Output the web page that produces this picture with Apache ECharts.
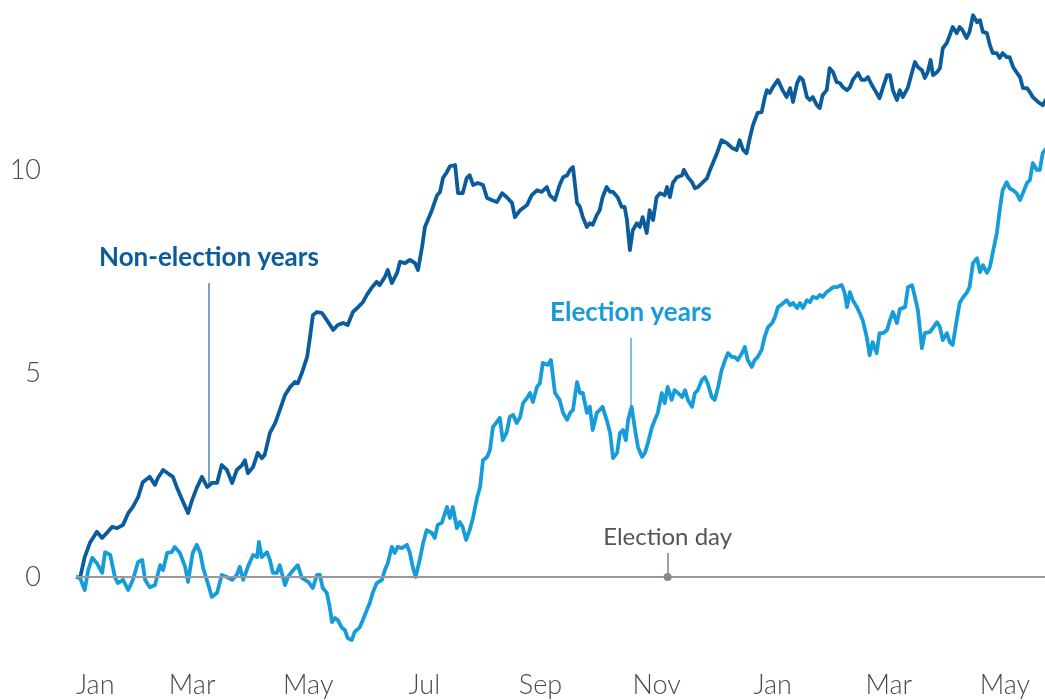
<!DOCTYPE html>
<html>
<head>
<meta charset="utf-8">
<title>Election vs non-election years</title>
<script src="https://cdn.jsdelivr.net/npm/echarts@6/dist/echarts.min.js"></script>
<style>
  html, body { margin: 0; padding: 0; background: #ffffff; }
  #chart { width: 1045px; height: 700px; }
</style>
</head>
<body>
<div id="chart"></div>
<script>
// Months elapsed since January 1 of the first year (x) and cumulative return in % (y)
const nonElectionMonths = [0,0.07,0.15,0.24,0.36,0.45,0.53,0.62,0.71,0.81,0.90,0.98,1.07,1.15,1.27,1.36,1.41,1.50,1.58,1.67,1.74,1.83,1.93,2.00,2.08,2.17,2.26,2.34,2.43,2.51,2.60,2.69,2.77,2.86,2.91,2.96,3.05,3.13,3.20,3.25,3.34,3.43,3.51,3.60,3.69,3.77,3.82,3.89,3.98,4.03,4.08,4.15,4.24,4.32,4.43,4.51,4.60,4.68,4.77,4.86,4.94,5.01,5.10,5.18,5.23,5.32,5.37,5.44,5.53,5.58,5.67,5.75,5.84,5.89,5.96,6.01,6.06,6.13,6.22,6.27,6.32,6.39,6.44,6.53,6.58,6.66,6.73,6.78,6.84,6.92,7.01,7.08,7.16,7.25,7.34,7.42,7.51,7.56,7.65,7.77,7.85,7.94,8.02,8.11,8.16,8.25,8.33,8.39,8.46,8.51,8.56,8.63,8.68,8.73,8.80,8.85,8.90,8.97,9.02,9.07,9.14,9.20,9.25,9.33,9.40,9.45,9.49,9.54,9.59,9.66,9.71,9.76,9.83,9.88,9.94,10.00,10.06,10.14,10.18,10.23,10.28,10.35,10.44,10.47,10.54,10.61,10.66,10.71,10.80,10.87,10.92,10.97,11.04,11.12,11.21,11.30,11.38,11.43,11.49,11.55,11.61,11.66,11.74,11.81,11.86,11.90,11.95,12.00,12.09,12.17,12.24,12.30,12.35,12.42,12.47,12.52,12.59,12.64,12.69,12.76,12.81,12.86,12.93,12.98,13.04,13.10,13.16,13.21,13.28,13.33,13.38,13.47,13.53,13.59,13.64,13.71,13.76,13.84,13.90,13.97,14.02,14.07,14.14,14.19,14.24,14.33,14.40,14.45,14.50,14.57,14.62,14.67,14.72,14.76,14.83,14.88,14.93,15.00,15.05,15.10,15.17,15.22,15.27,15.34,15.39,15.45,15.52,15.57,15.62,15.69,15.74,15.79,15.86,15.91,15.96,16.03,16.08,16.14,16.20,16.26,16.31,16.38,16.43,16.48,16.57,16.65,16.72];
const nonElectionValues = [0,-0.02,0.49,0.84,1.11,0.96,1.08,1.23,1.20,1.28,1.57,1.72,1.96,2.33,2.46,2.26,2.43,2.63,2.55,2.46,2.19,1.89,1.57,1.89,2.19,2.46,2.21,2.31,2.31,2.75,2.63,2.31,2.63,2.75,2.87,2.55,2.70,3.05,2.92,3.00,3.54,3.78,4.10,4.47,4.67,4.79,4.76,5.01,5.40,5.89,6.43,6.51,6.48,6.31,6.07,6.19,6.24,6.19,6.51,6.63,6.75,6.93,7.12,7.25,7.17,7.37,7.54,7.22,7.47,7.74,7.71,7.79,7.71,7.54,8.10,8.60,8.77,9.01,9.38,9.46,9.80,9.95,10.09,10.12,9.43,9.43,9.80,9.87,9.63,9.68,9.63,9.31,9.26,9.21,9.43,9.33,9.19,8.84,9.01,9.14,9.38,9.50,9.46,9.58,9.38,9.26,9.63,9.82,9.87,10.00,10.07,9.19,9.09,8.84,8.60,8.69,8.65,8.89,9.01,9.33,9.58,9.46,9.46,9.33,9.09,9.09,8.77,8.03,8.52,8.69,8.60,8.84,8.45,9.01,8.77,9.33,9.43,9.38,9.58,9.33,9.68,9.82,9.87,10.00,9.82,9.70,9.55,9.58,9.70,9.80,10.00,10.17,10.41,10.73,10.66,10.54,10.49,10.73,10.49,10.41,10.81,11.10,11.40,11.42,11.76,11.96,11.89,12.03,12.21,11.96,11.79,12.01,11.67,12.13,12.28,12.21,11.79,11.72,11.79,11.59,11.52,11.84,11.96,12.50,12.40,12.16,12.13,12.03,11.96,12.03,12.21,12.38,12.21,12.21,12.28,12.08,11.96,11.76,12.03,12.33,12.33,11.96,11.72,11.96,11.79,12.03,12.40,12.65,12.53,12.45,12.26,12.40,12.70,12.33,12.40,12.50,12.99,13.12,13.31,13.51,13.36,13.51,13.43,13.24,13.39,13.80,13.63,13.68,13.39,13.36,13.07,12.87,12.87,12.75,12.87,12.77,12.77,12.53,12.40,12.28,12.01,12.01,11.91,11.79,11.67,11.59,11.76];

const electionMonths = [0,0.07,0.15,0.21,0.28,0.36,0.45,0.50,0.59,0.67,0.72,0.81,0.90,0.98,1.07,1.14,1.19,1.27,1.36,1.45,1.50,1.57,1.65,1.70,1.79,1.88,1.93,2.01,2.08,2.14,2.19,2.27,2.34,2.43,2.51,2.60,2.69,2.77,2.82,2.88,2.96,3.05,3.12,3.15,3.20,3.29,3.34,3.39,3.46,3.51,3.60,3.65,3.74,3.82,3.89,4.00,4.08,4.15,4.20,4.25,4.32,4.37,4.41,4.46,4.51,4.58,4.63,4.68,4.75,4.80,4.89,4.94,5.01,5.06,5.11,5.18,5.27,5.32,5.37,5.44,5.49,5.54,5.61,5.70,5.75,5.80,5.85,5.92,5.98,6.04,6.13,6.18,6.23,6.30,6.39,6.44,6.49,6.56,6.61,6.66,6.72,6.78,6.84,6.91,6.96,7.01,7.08,7.13,7.18,7.25,7.30,7.35,7.42,7.47,7.53,7.59,7.65,7.70,7.77,7.82,7.87,7.94,7.99,8.04,8.13,8.18,8.25,8.33,8.39,8.46,8.51,8.56,8.63,8.68,8.73,8.80,8.85,8.90,8.97,9.02,9.07,9.14,9.20,9.25,9.32,9.37,9.42,9.47,9.51,9.57,9.63,9.68,9.75,9.80,9.85,9.92,9.97,10.02,10.09,10.14,10.19,10.26,10.31,10.37,10.44,10.49,10.54,10.61,10.66,10.71,10.78,10.83,10.88,10.95,11.00,11.06,11.12,11.18,11.23,11.30,11.35,11.40,11.47,11.52,11.57,11.64,11.69,11.74,11.81,11.86,11.92,11.99,12.04,12.09,12.16,12.24,12.30,12.35,12.42,12.47,12.52,12.59,12.64,12.69,12.76,12.81,12.86,12.93,12.98,13.04,13.10,13.19,13.24,13.28,13.33,13.38,13.45,13.50,13.55,13.62,13.67,13.72,13.79,13.84,13.90,13.97,14.02,14.07,14.14,14.19,14.28,14.33,14.40,14.45,14.50,14.57,14.62,14.71,14.76,14.83,14.88,14.93,15.00,15.05,15.10,15.17,15.22,15.27,15.34,15.39,15.45,15.52,15.57,15.62,15.69,15.74,15.79,15.86,15.91,15.96,16.03,16.08,16.14,16.20,16.26,16.31,16.38,16.43,16.48,16.55,16.60,16.65,16.72];
const electionValues = [0,-0.02,-0.32,0.17,0.47,0.34,0.10,0.61,0.54,0,-0.15,-0.07,-0.32,-0.07,0.37,0.42,-0.07,-0.25,-0.20,0.29,0.17,0.59,0.61,0.74,0.59,0.25,-0.12,0.59,0.79,0.59,0.22,-0.15,-0.49,-0.39,0.05,0,-0.07,0.05,0.25,-0.07,0.25,0.54,0.49,0.86,0.49,0.61,0.42,0.10,0.10,0.29,-0.20,0,0.17,0.29,-0.02,-0.12,-0.27,0.05,0.05,-0.27,-0.39,-0.74,-1.11,-1.01,-1.06,-1.25,-1.30,-1.50,-1.55,-1.35,-1.23,-1.06,-0.81,-0.64,-0.39,-0.15,-0.07,0.17,0.34,0.74,0.59,0.74,0.71,0.79,0.59,0.25,0,0.42,0.84,1.15,1.08,0.96,1.28,1.33,1.72,1.45,1.72,1.20,1.35,1.23,0.91,1.15,1.47,1.96,2.21,2.87,2.95,3.12,3.68,3.81,3.91,3.36,3.56,3.93,3.98,3.78,3.93,4.27,4.40,4.52,4.30,4.67,4.76,5.26,5.21,5.33,4.52,4.35,4.03,3.86,4.03,4.10,4.79,4.52,4.52,4.03,4.18,3.61,4.03,4.10,4.18,3.86,3.54,2.92,3.05,3.54,3.61,3.36,3.86,4.18,3.61,3.19,2.95,3.05,3.29,3.68,3.86,4.03,4.52,4.27,4.67,4.35,4.59,4.52,4.42,4.59,4.35,4.18,4.52,4.59,4.84,4.91,4.76,4.42,4.35,4.67,5.08,5.33,5.50,5.40,5.40,5.33,5.50,5.65,5.33,5.16,5.33,5.40,5.58,5.89,6.14,6.24,6.39,6.63,6.70,6.80,6.68,6.73,6.61,6.73,6.61,6.80,6.75,6.88,6.85,6.93,6.88,7.00,7.05,7.12,7.12,7.17,6.98,6.63,7.00,6.80,6.63,6.48,6.31,5.89,5.45,5.77,5.50,5.99,5.99,6.07,6.31,6.51,6.24,6.58,6.63,7.12,7.17,6.88,6.56,5.62,5.99,6.02,6.12,6.26,6.14,5.82,5.99,5.77,5.70,6.31,6.73,6.85,6.98,7.12,7.71,7.83,7.49,7.66,7.47,7.61,7.96,8.45,9.01,9.50,9.70,9.55,9.50,9.43,9.26,9.43,9.68,9.75,10.17,10.00,10.00,10.41,10.54];

// Axis labels: one every two months across eighteen months
const monthLabels = ['Jan', 'Mar', 'May', 'Jul', 'Sep', 'Nov', 'Jan', 'Mar', 'May'];
const valueLabels = [0, 5, 10];

// Callouts: [month, value on the line, value where the caption sits]
const nonElectionCallout = [2.29, 2.30, 7.22];
const electionCallout = [9.56, 4.20, 5.87];
const electionDay = [10.19, 0, 0.59];

const darkBlue = '#0b5c9c';
const lightBlue = '#169dd9';
const labelFont = 'Lato, "Open Sans", "DejaVu Sans", sans-serif';

const zip = (xs, ys) => xs.map((x, i) => [x, ys[i]]);

function callout(c, text, color, lineColor, font) {
  return [
    { coord: [c[0], c[1]], symbol: 'none' },
    {
      coord: [c[0], c[2]], symbol: 'none',
      lineStyle: { color: lineColor, width: 1.5, type: 'solid' },
      label: Object.assign({ show: true, position: 'end', formatter: text, color: color, fontFamily: labelFont }, font)
    }
  ];
}

const chart = echarts.init(document.getElementById('chart'), null, { renderer: 'canvas' });

chart.setOption({
  animation: false,
  backgroundColor: '#ffffff',
  grid: { left: 76, right: 0, top: 1, bottom: 41.6, containLabel: false, outerBoundsMode: 'none' },
  xAxis: {
    type: 'value',
    min: 0,
    max: 16.69,
    interval: 2,
    axisLine: { show: false },
    axisTick: { show: false },
    splitLine: { show: false },
    axisLabel: {
      margin: 13,
      alignMinLabel: 'left',
      color: '#4a4a4a',
      fontFamily: labelFont,
      fontWeight: 300,
      fontSize: 27,
      formatter: v => monthLabels[Math.round(v / 2)] || ''
    }
  },
  yAxis: {
    type: 'value',
    min: -2,
    max: 14.15,
    interval: 1,
    axisLine: { show: false },
    axisTick: { show: false },
    splitLine: { show: false },
    axisLabel: {
      margin: 35,
      color: '#4a4a4a',
      fontFamily: labelFont,
      fontWeight: 300,
      fontSize: 27,
      showMaxLabel: false,
      formatter: v => valueLabels.indexOf(v) >= 0 ? String(v) : ''
    }
  },
  series: [
    {
      name: 'Non-election years',
      type: 'line',
      data: zip(nonElectionMonths, nonElectionValues),
      showSymbol: false,
      lineStyle: { color: darkBlue, width: 3.8, join: 'round' },
      itemStyle: { color: darkBlue },
      z: 3,
      markLine: {
        silent: true,
        symbol: ['none', 'none'],
        animation: false,
        lineStyle: { color: '#999999', width: 2.2, type: 'solid' },
        label: { show: false },
        data: [
          [
            { coord: [0, 0], symbol: 'none' },
            { coord: [16.69, 0], symbol: 'none', label: { show: false } }
          ],
          callout(nonElectionCallout, 'Non-election years', darkBlue, 'rgba(11,92,156,0.75)',
            { fontSize: 26, fontWeight: 'bold', distance: 12 }),
          [
            { coord: [electionDay[0], electionDay[1]], symbol: 'circle', symbolSize: 8, itemStyle: { color: '#7b7070' } },
            {
              coord: [electionDay[0], electionDay[2]], symbol: 'none',
              lineStyle: { color: '#888888', width: 1.6, type: 'solid' },
              label: { show: true, position: 'end', formatter: 'Election day', color: '#555555', fontFamily: labelFont, fontSize: 24, distance: 4 }
            }
          ]
        ]
      }
    },
    {
      name: 'Election years',
      type: 'line',
      data: zip(electionMonths, electionValues),
      showSymbol: false,
      lineStyle: { color: lightBlue, width: 3.8, join: 'round' },
      itemStyle: { color: lightBlue },
      z: 4,
      markLine: {
        silent: true,
        symbol: ['none', 'none'],
        animation: false,
        label: { show: false },
        data: [
          callout(electionCallout, 'Election years', lightBlue, 'rgba(22,157,217,0.8)',
            { fontSize: 26, fontWeight: 'bold', distance: 12 })
        ]
      }
    }
  ]
});
</script>
</body>
</html>
